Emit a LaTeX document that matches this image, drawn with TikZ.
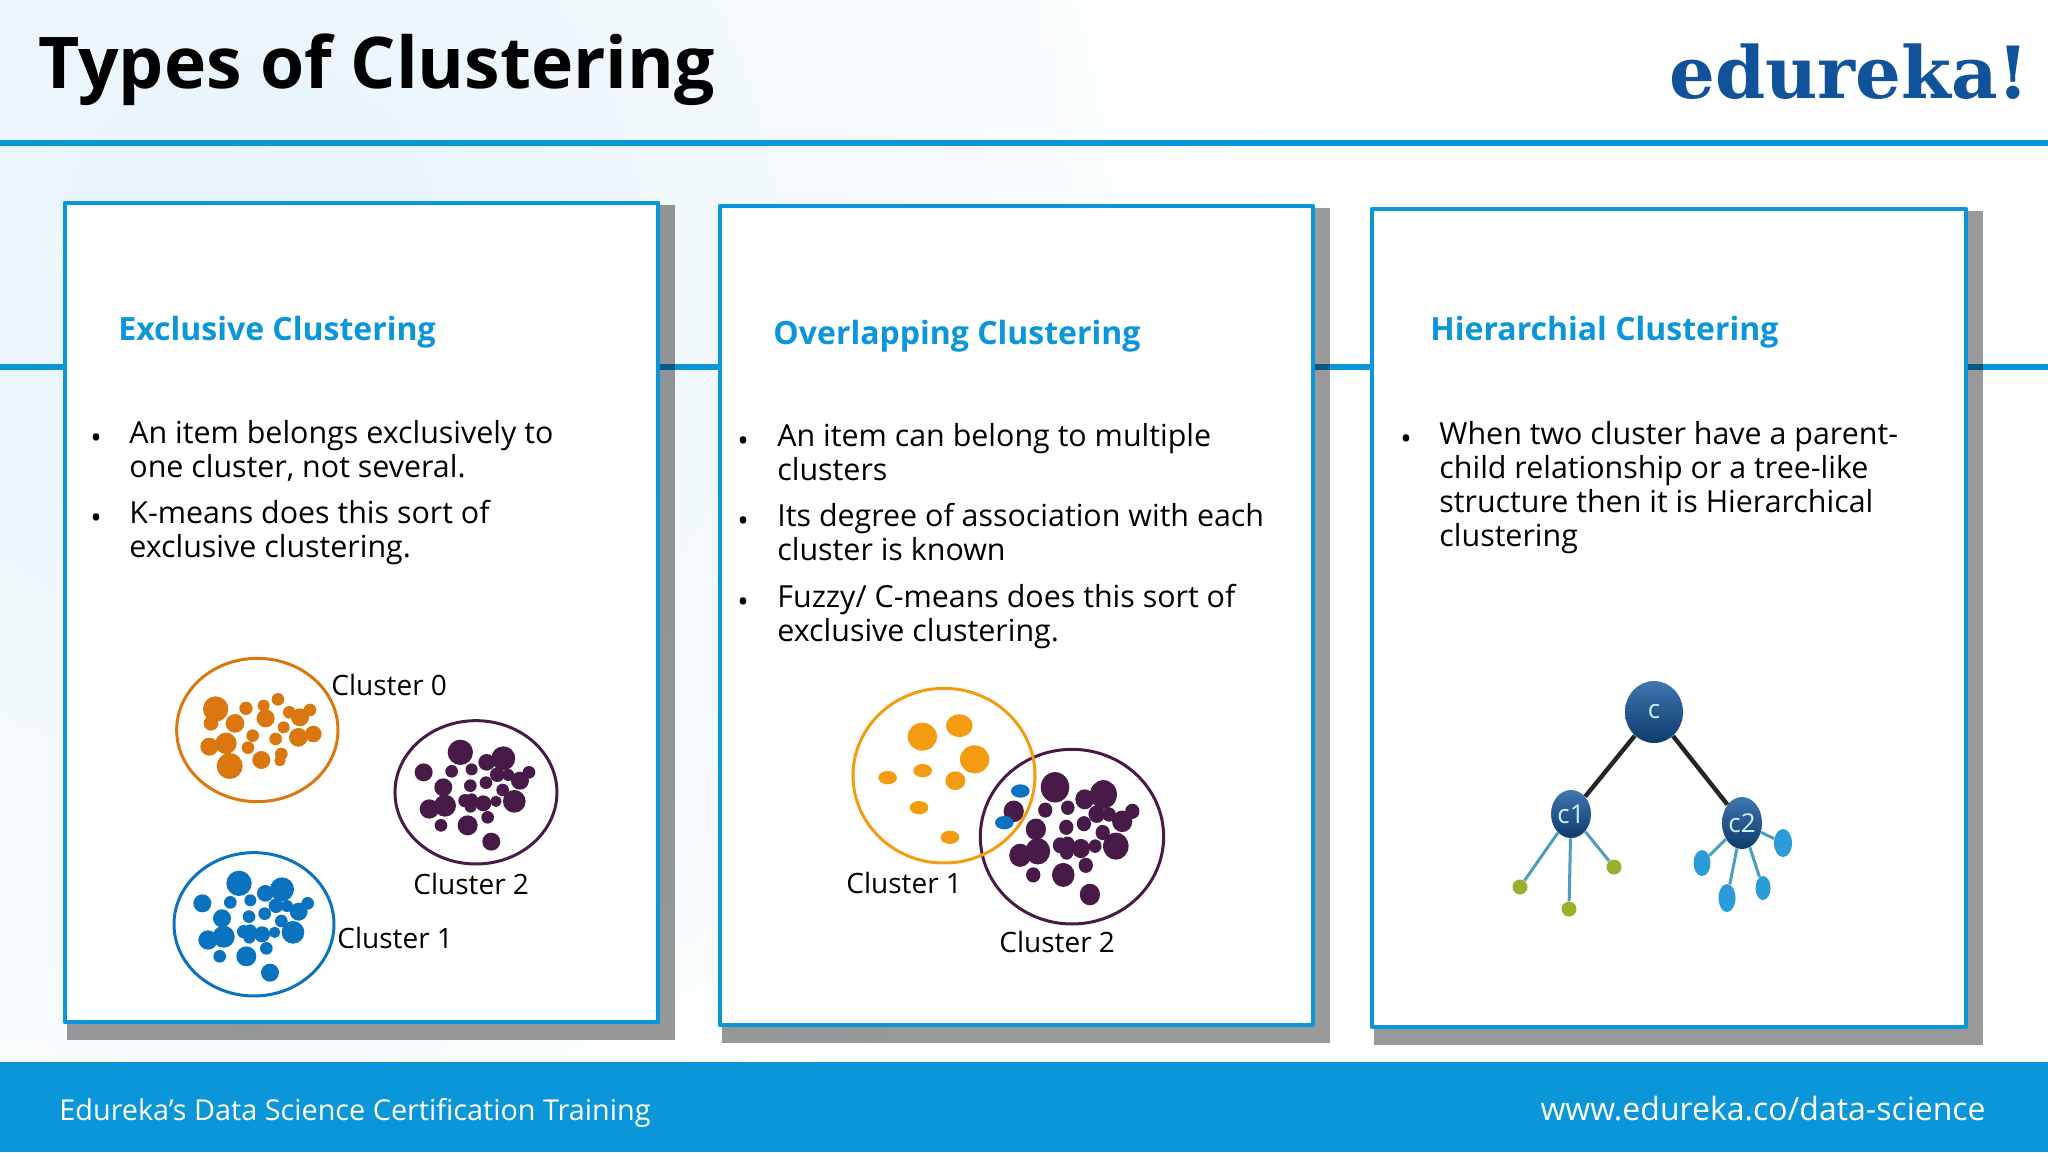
\documentclass[tikz,border=0pt]{standalone}
\usepackage{fontspec}
\setmainfont{Open Sans}
\newfontfamily\logofont{DejaVu Serif}
\usetikzlibrary{shapes.geometric}
\definecolor{lineblue}{HTML}{0A96D8}
\definecolor{logoblue}{HTML}{11539B}
\definecolor{orangea}{HTML}{DB770F}
\definecolor{orangeb}{HTML}{F39C12}
\definecolor{plum}{HTML}{471A48}
\definecolor{dotblue}{HTML}{0A72BE}
\definecolor{leafgreen}{HTML}{9BAF2F}
\definecolor{leafblue}{HTML}{2C9BD9}
\definecolor{stemblue}{HTML}{4C9DBE}
\definecolor{paleblue}{HTML}{E6F3FA}
\tikzset{
	bodytext/.style={anchor=north west,inner sep=0pt,align=left,font=\fontsize{15.2}{17}\selectfont},
	dotmark/.style={anchor=base,inner sep=0pt,font=\fontsize{15.2}{17}\selectfont},
	headtext/.style={anchor=base west,inner sep=0pt,text=lineblue,font=\fontsize{16}{18}\selectfont\bfseries},
	clustertext/.style={anchor=base west,inner sep=0pt,font=\fontsize{14}{16}\selectfont},
	foottext/.style={anchor=base west,inner sep=0pt,text=white},
	parent/.style={ellipse,inner sep=0pt,top color=logoblue!80!white,bottom color=logoblue!70!black,text=white!80!cyan,font=\fontsize{13}{13}\selectfont},
	leaf/.style={ellipse,inner sep=0pt,fill=#1}
}
% cluster dots, in zoom pixels
\newcommand{\plumdots}[1]{%
	\foreach \px/\py/\pr in {931/337/38,1010/367/25,1060/355/36,821/397/27,905/394/19,965/388/18,
		1042/404/22,1075/405/18,1110/422/27,1137/397/19,1008/428/19,961/437/19,880/442/27,1058/450/19,
		1093/484/34,945/482/20,965/478/18,962/500/18,1000/490/24,1038/484/17,885/497/33,838/507/29,
		1013/532/19,873/556/19,953/556/30,1024/605/27}
	\fill[#1] (\px,\py) circle (\pr);
}
\begin{document}
\begin{tikzpicture}[x=0.5pt,y=-0.5pt,line join=round]
	\useasboundingbox (0,0) rectangle (2048,1152);
	% background
	\begin{scope}
		\clip (0,0) rectangle (2048,1062);
		\shade[inner color=paleblue,outer color=white] (250,250) circle (1050);
	\end{scope}
	\fill[lineblue] (0,140) rectangle (2048,146);
	\fill[lineblue] (0,364) rectangle (2048,370);
	\fill[lineblue] (0,1062) rectangle (2048,1152);
	% cards
	\foreach \xa/\ya/\xb/\yb in {65/203/658/1022,720/206/1313/1025,1372/209/1966/1027}{
		\fill[black,opacity=.4] (\xa+2,\ya+2) rectangle (\xb+16.5,\yb+18);
		\draw[lineblue,line width=2.2pt,fill=white] (\xa,\ya) rectangle (\xb,\yb);
	}
	% titles
	\node[anchor=base west,inner sep=0pt,font=\fontsize{35.7}{36}\selectfont\bfseries] (title) at (38,88) {Types of Clustering};
	\node[anchor=base east,inner sep=0pt,text=logoblue,font=\fontsize{36}{36}\selectfont\logofont\bfseries] (logo) at (2030,98) {edureka!};
	\node[headtext] (headone) at (118,340) {Exclusive Clustering};
	\node[headtext] (headtwo) at (773,344) {Overlapping Clustering};
	\node[headtext] (headthree) at (1430,340) {Hierarchial Clustering};
	% bullet texts
	\node[dotmark] (dota) at (96,448) {•};
	\node[bodytext] (texta) at (129,420) {An item belongs exclusively to\\one cluster, not several.};
	\node[dotmark] (dotb) at (96,528) {•};
	\node[bodytext] (textb) at (129,500) {K-means does this sort of\\exclusive clustering.};
	\node[dotmark] (dotc) at (743,451) {•};
	\node[bodytext] (textc) at (777,423) {An item can belong to multiple\\clusters};
	\node[dotmark] (dotd) at (743,531) {•};
	\node[bodytext] (textd) at (777,503) {Its degree of association with each\\cluster is known};
	\node[dotmark] (dote) at (743,612) {•};
	\node[bodytext] (texte) at (777,584) {Fuzzy/ C-means does this sort of\\exclusive clustering.};
	\node[dotmark] (dotf) at (1406,449) {•};
	\node[bodytext] (textf) at (1439,421) {When two cluster have a parent-\\child relationship or a tree-like\\structure then it is Hierarchical\\clustering};
	% left clusters
	\begin{scope}[shift={(150,640)},scale=0.3333]
		\draw[orangea,line width=1.5pt] (322,270) ellipse (242 and 215);
		\foreach \px/\py/\pr in {197/207/38,183/250/22,255/250/28,288/205/20,341/197/18,347/235/27,
			384/178/19,418/217/19,450/232/27,480/210/19,401/262/18,490/282/25,445/292/28,308/287/19,
			377/297/19,228/310/32,178/320/27,294/323/19,334/360/27,394/342/19,390/362/17,239/378/39}
		\fill[orangea] (\px,\py) circle (\pr);
		\draw[plum,line width=1.5pt] (978,457) ellipse (243 and 215);
		\plumdots{plum}
		\draw[dotblue,line width=1.5pt] (312,853) ellipse (240 and 215);
	\end{scope}
	\begin{scope}[shift={(-71.3,771)},scale=0.3333]
		\plumdots{dotblue}
	\end{scope}
	\node[clustertext] (zero) at (331,695) {Cluster 0};
	\node[clustertext] (two) at (413,894) {Cluster 2};
	\node[clustertext] (one) at (337,948) {Cluster 1};
	% middle clusters
	\begin{scope}[shift={(705.6,652.5)},xscale=.3753,yscale=.4]
		\plumdots{plum}
	\end{scope}
	\begin{scope}[shift={(830,670)},scale=0.3333]
		\draw[plum,line width=1.5pt] (726,500) ellipse (275 and 262);
		\draw[orangeb,line width=1.5pt] (342,317) ellipse (273 and 262);
		\foreach \px/\py/\prx/\pry in {277/200/44/42,388/167/40/34,434/268/44/42,173/323/28/20,
			278/302/28/20,376/332/30/28,267/413/28/20,360/502/28/20}
		\fill[orangeb] (\px,\py) ellipse [x radius=\prx,y radius=\pry];
		\fill[dotblue] (571,363) ellipse (28 and 20);
		\fill[dotblue] (523,458) ellipse (28 and 20);
	\end{scope}
	\node[clustertext] (onemid) at (846,893) {Cluster 1};
	\node[clustertext] (twomid) at (999,952) {Cluster 2};
	% tree
	\node[parent,minimum width=29pt,minimum height=31pt] (c) at (1654,712) {c};
	\node[parent,minimum width=20pt,minimum height=24pt] (cl) at (1571,814) {c1};
	\node[parent,minimum width=20pt,minimum height=26pt] (cr) at (1742,823) {c2};
	\node[leaf=leafgreen,minimum size=7.5pt] (la) at (1520,887) {};
	\node[leaf=leafgreen,minimum size=7.5pt] (lb) at (1569,909) {};
	\node[leaf=leafgreen,minimum size=7.5pt] (lc) at (1614,867) {};
	\node[leaf=leafblue,minimum width=8.5pt,minimum height=13pt] (ld) at (1702,863) {};
	\node[leaf=leafblue,minimum width=8.5pt,minimum height=14pt] (le) at (1727,898) {};
	\node[leaf=leafblue,minimum width=7.5pt,minimum height=12pt] (lf) at (1763,888) {};
	\node[leaf=leafblue,minimum width=9pt,minimum height=14pt] (lg) at (1783,843) {};
	\draw[black!85,line width=2.2pt] (c) -- (cl);
	\draw[black!85,line width=2.2pt] (c) -- (cr);
	\foreach \tip in {la,lb,lc}
	\draw[stemblue,line width=1.5pt] (cl) -- (\tip);
	\foreach \tip in {ld,le,lf,lg}
	\draw[stemblue,line width=1.5pt] (cr) -- (\tip);
	% footer
	\node[foottext,font=\fontsize{14.4}{16}\selectfont] (footl) at (59,1120) {Edureka’s Data Science Certification Training};
	\node[foottext,anchor=base east,font=\fontsize{16}{18}\selectfont] (footr) at (1986,1120) {www.edureka.co/data-science};
\end{tikzpicture}
\end{document}
